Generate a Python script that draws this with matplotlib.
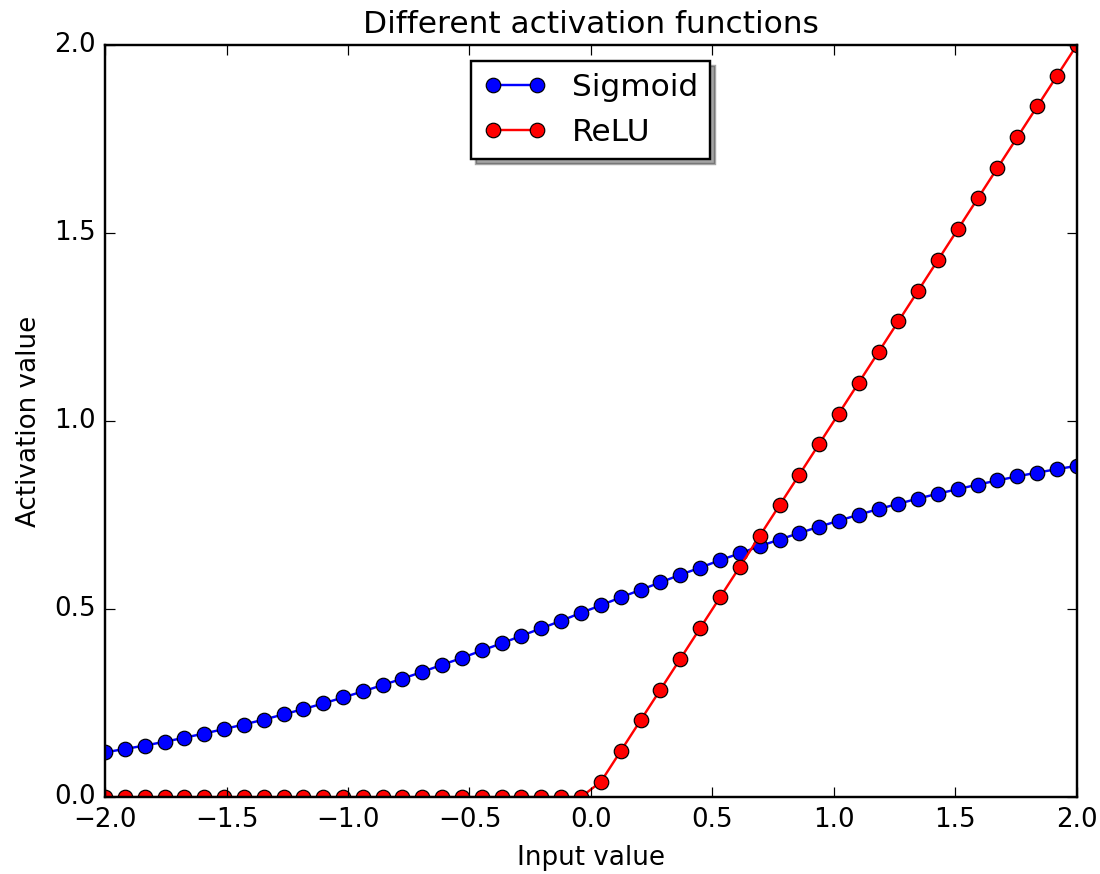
import matplotlib
matplotlib.use('Agg')
import matplotlib.pyplot as plt

plt.style.use('classic')
plt.rcParams['font.size'] = 10.8

# input values, -2 .. 2 in 50 steps
x_vals = [-2.000, -1.918, -1.837, -1.755, -1.673, -1.592, -1.510, -1.429, -1.347, -1.265,
          -1.184, -1.102, -1.020, -0.939, -0.857, -0.776, -0.694, -0.612, -0.531, -0.449,
          -0.367, -0.286, -0.204, -0.122, -0.041, 0.041, 0.122, 0.204, 0.286, 0.367,
          0.449, 0.531, 0.612, 0.694, 0.776, 0.857, 0.939, 1.020, 1.102, 1.184,
          1.265, 1.347, 1.429, 1.510, 1.592, 1.673, 1.755, 1.837, 1.918, 2.000]

sigmoid_vals = [0.119, 0.128, 0.137, 0.147, 0.158, 0.169, 0.181, 0.193, 0.206, 0.220,
                0.234, 0.249, 0.265, 0.281, 0.298, 0.315, 0.333, 0.352, 0.370, 0.390,
                0.409, 0.429, 0.449, 0.469, 0.490, 0.510, 0.531, 0.551, 0.571, 0.591,
                0.610, 0.630, 0.648, 0.667, 0.685, 0.702, 0.719, 0.735, 0.751, 0.766,
                0.780, 0.794, 0.807, 0.819, 0.831, 0.842, 0.853, 0.863, 0.872, 0.881]

relu_vals = [0.0] * 25 + [0.041, 0.122, 0.204, 0.286, 0.367, 0.449, 0.531, 0.612, 0.694, 0.776,
                          0.857, 0.939, 1.020, 1.102, 1.184, 1.265, 1.347, 1.429, 1.510, 1.592,
                          1.673, 1.755, 1.837, 1.918, 2.000]

fig = plt.figure(figsize=(1100 / 174.0, 874 / 174.0), dpi=174)
fig.patch.set_facecolor('white')
ax = fig.add_axes([0.0955, 0.088, 0.8835, 0.8605])

ax.plot(x_vals, sigmoid_vals, 'bo-', mec='k', mew=0.5, label='Sigmoid')
ax.plot(x_vals, relu_vals, 'ro-', mec='k', mew=0.5, label='ReLU')

ax.set_xlim(-2, 2)
ax.set_ylim(0, 2)
ax.set_title('Different activation functions')
ax.set_xlabel('Input value')
ax.set_ylabel('Activation value')
ax.legend(loc='upper center', shadow=True, fancybox=False, numpoints=2)

fig.savefig('out.png', dpi=174, facecolor='white')
